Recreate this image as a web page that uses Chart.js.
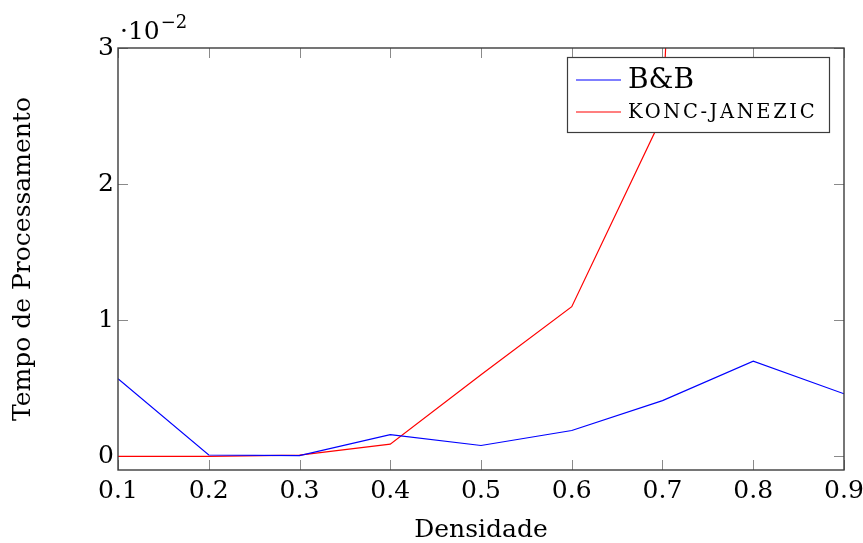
<!DOCTYPE html>
<html>
<head>
<meta charset="utf-8">
<script src="https://cdn.jsdelivr.net/npm/chart.js@4/dist/chart.umd.min.js"></script>
<style>
  html, body { margin: 0; padding: 0; background: #ffffff; }
  #wrap { width: 863px; height: 543px; }
</style>
</head>
<body>
<div id="wrap"><canvas id="chart" width="863" height="543"></canvas></div>
<script>
// Graph density on the x axis, processing time (x 10^-2) on the y axis
const densidade = [0.1, 0.2, 0.3, 0.4, 0.5, 0.6, 0.7, 0.8, 0.9];
const tempoBB   = [0.0057, 0.0001, 0.00005, 0.0016, 0.0008, 0.0019, 0.0041, 0.0070, 0.0046];
const tempoKJ   = [0.0, 0.0, 0.0001, 0.0009, 0.0060, 0.0110, 0.0250, 0.1700, 0.5000];
const xTicks    = [0.1, 0.2, 0.3, 0.4, 0.5, 0.6, 0.7, 0.8, 0.9];
const yTicks    = [0, 0.01, 0.02, 0.03];
const serieNomes = ['B&B', 'KONC-JANEZIC'];

const SERIF = '"DejaVu Serif", "Liberation Serif", serif';

function pontos(vals) {
  return densidade.map((d, i) => ({ x: d, y: vals[i] }));
}

// Inward ticks on all four sides (under the lines), then frame and 10^-2 multiplier
const moldura = {
  id: 'moldura',
  beforeDatasetsDraw(chart) {
    const { ctx, chartArea: a, scales } = chart;
    const len = 10;
    ctx.save();
    ctx.strokeStyle = '#8a8a8a';
    ctx.lineWidth = 1;
    ctx.beginPath();
    xTicks.forEach(v => {
      const px = Math.round(scales.x.getPixelForValue(v)) + 0.5;
      ctx.moveTo(px, a.bottom); ctx.lineTo(px, a.bottom - len);
      ctx.moveTo(px, a.top);    ctx.lineTo(px, a.top + len);
    });
    yTicks.forEach(v => {
      const py = Math.round(scales.y.getPixelForValue(v)) + 0.5;
      ctx.moveTo(a.left, py);  ctx.lineTo(a.left + len, py);
      ctx.moveTo(a.right, py); ctx.lineTo(a.right - len, py);
    });
    ctx.stroke();
    ctx.restore();
  },
  afterDatasetsDraw(chart) {
    const { ctx, chartArea: a } = chart;
    ctx.save();
    ctx.strokeStyle = '#3c3c3c';
    ctx.lineWidth = 1.4;
    ctx.strokeRect(a.left, a.top, a.right - a.left, a.bottom - a.top);

    // multiplier label
    ctx.fillStyle = '#000';
    ctx.textBaseline = 'alphabetic';
    ctx.textAlign = 'left';
    ctx.font = '25px ' + SERIF;
    const base = '\u00b710';
    ctx.fillText(base, a.left + 2, a.top - 9);
    const w = ctx.measureText(base).width;
    ctx.font = '18px ' + SERIF;
    ctx.fillText('\u22122', a.left + 2 + w + 1, a.top - 20);
    ctx.restore();
  },
  afterDraw(chart) {
    // legend box in the upper right of the plot area
    const { ctx, chartArea: a } = chart;
    const box = { x: a.right - 277, y: a.top + 9, w: 262, h: 75 };
    ctx.save();
    ctx.fillStyle = '#ffffff';
    ctx.fillRect(box.x, box.y, box.w, box.h);
    ctx.strokeStyle = '#3c3c3c';
    ctx.lineWidth = 1.2;
    ctx.strokeRect(box.x + 0.5, box.y + 0.5, box.w, box.h);
    const rows = [box.y + 23, box.y + 55];
    chart.data.datasets.forEach((ds, i) => {
      ctx.strokeStyle = ds.borderColor;
      ctx.lineWidth = 1.2;
      ctx.beginPath();
      ctx.moveTo(box.x + 9, rows[i]);
      ctx.lineTo(box.x + 54, rows[i]);
      ctx.stroke();
      ctx.fillStyle = '#000';
      ctx.textBaseline = 'middle';
      ctx.textAlign = 'left';
      if (i === 0) {
        ctx.font = '28px ' + SERIF;
        ctx.letterSpacing = '0px';
      } else {
        ctx.font = '19.5px ' + SERIF;
        ctx.letterSpacing = '2.6px';
      }
      ctx.fillText(ds.label, box.x + 61, rows[i] + 1);
    });
    ctx.restore();
  }
};

new Chart(document.getElementById('chart'), {
  type: 'line',
  data: {
    datasets: [
      { label: serieNomes[0], data: pontos(tempoBB), borderColor: '#0000ff', borderWidth: 1.2, pointRadius: 0, tension: 0, fill: false },
      { label: serieNomes[1], data: pontos(tempoKJ), borderColor: '#ff0000', borderWidth: 1.2, pointRadius: 0, tension: 0, fill: false }
    ]
  },
  options: {
    responsive: false,
    animation: false,
    devicePixelRatio: 1,
    layout: { padding: { top: 48, right: 19, left: 0, bottom: 0 } },
    plugins: { legend: { display: false }, tooltip: { enabled: false } },
    scales: {
      x: {
        type: 'linear',
        min: 0.1, max: 0.9,
        afterBuildTicks: s => { s.ticks = xTicks.map(v => ({ value: v })); },
        afterFit: s => { s.height = 73; s.paddingLeft = 0; s.paddingRight = 0; },
        grid: { display: false },
        border: { display: false },
        ticks: {
          color: '#000', padding: -2, maxRotation: 0, autoSkip: false,
          font: { family: SERIF, size: 25 },
          callback: v => v.toFixed(1)
        },
        title: {
          display: true, text: 'Densidade', color: '#000',
          font: { family: SERIF, size: 25 }, padding: { top: 0, bottom: -2 }
        }
      },
      y: {
        type: 'linear',
        min: -0.001, max: 0.03,
        afterBuildTicks: s => { s.ticks = yTicks.map(v => ({ value: v })); },
        afterFit: s => { s.width = 118; },
        grid: { display: false },
        border: { display: false },
        ticks: {
          color: '#000', padding: -4,
          font: { family: SERIF, size: 25 },
          callback: v => String(Math.round(v * 100))
        },
        title: {
          display: true, text: 'Tempo de Processamento', color: '#000',
          font: { family: SERIF, size: 25 }, padding: { top: 8, bottom: 0 }
        }
      }
    }
  },
  plugins: [moldura]
});
</script>
</body>
</html>
